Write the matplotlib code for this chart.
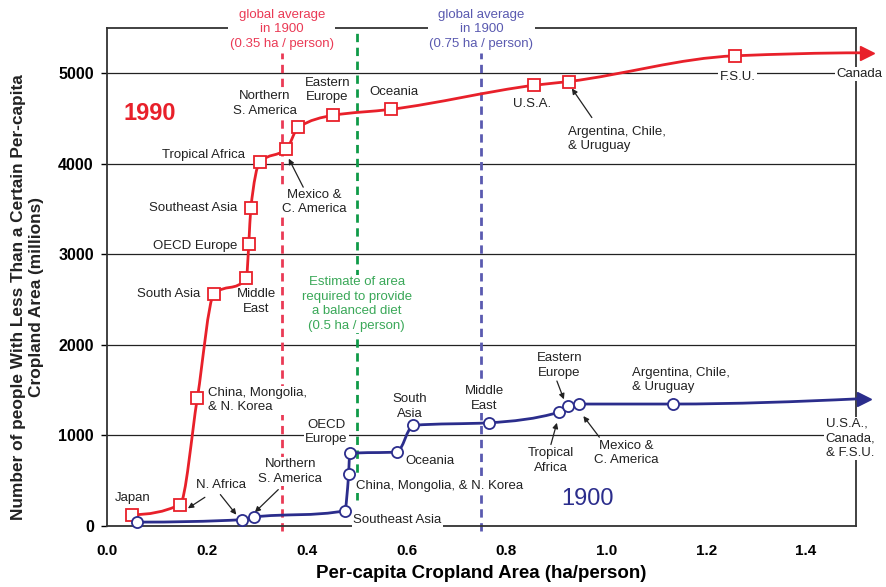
import numpy as np
import matplotlib
matplotlib.use("Agg")
import matplotlib.pyplot as plt
from matplotlib.path import Path
from matplotlib.patches import PathPatch

plt.rcParams['font.family'] = ['Liberation Sans', 'DejaVu Sans']

# Serie 1990: superficie cultivada per capita (ha/persona) y poblacion acumulada (millones)
x_1990 = [0.051, 0.146, 0.181, 0.214, 0.279, 0.284, 0.288, 0.306, 0.359,
          0.383, 0.453, 0.569, 0.856, 0.925, 1.258, 1.512]
y_1990 = [125, 236, 1416, 2561, 2734, 3115, 3509, 4019, 4159,
          4403, 4536, 4602, 4868, 4909, 5193, 5226]

# Serie 1900
x_1900 = [0.061, 0.271, 0.294, 0.476, 0.484, 0.486, 0.581, 0.613, 0.765,
          0.906, 0.923, 0.946, 1.133, 1.506]
y_1900 = [43, 70, 99, 169, 579, 801, 818, 1111, 1140,
          1258, 1321, 1347, 1347, 1405]

# Lineas de referencia (ha/persona)
media_1900_roja = 0.35
media_1900_azul = 0.75
dieta_equilibrada = 0.5

ROJO = '#e8202a'
AZUL = '#2b2d8c'
ROJO_CLARO = '#ea3a55'
AZUL_CLARO = '#5a5ab0'
VERDE = '#0f9a48'
VERDE_TXT = '#3aa858'
GRIS = '#222222'


def curva_suave(x, y):
    """Construye un Path de Bezier cubicas (Hermite monotona) que pasa por los puntos."""
    x = np.asarray(x, float)
    y = np.asarray(y, float)
    h = np.diff(x)
    delta = np.diff(y) / h
    n = len(x)
    d = np.zeros(n)
    for k in range(1, n - 1):
        if delta[k - 1] * delta[k] <= 0:
            d[k] = 0.0
        else:
            w1 = 2 * h[k] + h[k - 1]
            w2 = h[k] + 2 * h[k - 1]
            d[k] = (w1 + w2) / (w1 / delta[k - 1] + w2 / delta[k])

    def extremo(h0, h1, d0, d1):
        v = ((2 * h0 + h1) * d0 - h0 * d1) / (h0 + h1)
        if np.sign(v) != np.sign(d0):
            return 0.0
        if np.sign(d0) != np.sign(d1) and abs(v) > abs(3 * d0):
            return 3 * d0
        return v

    d[0] = extremo(h[0], h[1], delta[0], delta[1])
    d[-1] = extremo(h[-1], h[-2], delta[-1], delta[-2])

    verts = [(x[0], y[0])]
    codes = [Path.MOVETO]
    for k in range(n - 1):
        verts += [(x[k] + h[k] / 3, y[k] + d[k] * h[k] / 3),
                  (x[k + 1] - h[k] / 3, y[k + 1] - d[k + 1] * h[k] / 3),
                  (x[k + 1], y[k + 1])]
        codes += [Path.CURVE4] * 3
    return Path(verts, codes)


fig = plt.figure(figsize=(8.87, 5.87), dpi=100)
ax = fig.add_axes([107 / 887, 1 - 526 / 587, 749 / 887, 498 / 587])
ax.set_xlim(0, 1.5)
ax.set_ylim(0, 5500)

# rejilla horizontal
ax.set_yticks([0, 1000, 2000, 3000, 4000, 5000])
ax.set_xticks([0.0, 0.2, 0.4, 0.6, 0.8, 1.0, 1.2, 1.4])
ax.set_xticklabels(['0.0', '0.2', '0.4', '0.6', '0.8', '1.0', '1.2', '1.4'],
                   fontweight='bold', fontsize=11)
ax.set_yticklabels(['0', '1000', '2000', '3000', '4000', '5000'],
                   fontweight='bold', fontsize=11.5)
ax.grid(axis='y', color=GRIS, lw=0.9)
ax.set_axisbelow(True)
ax.tick_params(axis='x', length=0, pad=13)
ax.tick_params(axis='y', length=4.5, width=1, direction='out', pad=5)
for s in ax.spines.values():
    s.set_color('#333333')
    s.set_linewidth(1.3)

# lineas verticales discontinuas
ax.plot([media_1900_roja] * 2, [-50, 5222], color=ROJO_CLARO, lw=2,
        dashes=(3, 2), clip_on=False, zorder=2)
ax.plot([media_1900_azul] * 2, [-50, 5222], color=AZUL_CLARO, lw=2,
        dashes=(3, 2), clip_on=False, zorder=2)
ax.plot([dieta_equilibrada] * 2, [283, 5500], color=VERDE, lw=2,
        dashes=(3, 2), clip_on=False, zorder=2)

# curvas
for xs, ys, col, mk in [(x_1990, y_1990, ROJO, 's'), (x_1900, y_1900, AZUL, 'o')]:
    ax.add_patch(PathPatch(curva_suave(xs, ys), fill=False, edgecolor=col,
                           lw=2, zorder=5, clip_on=False))
    ax.plot(xs[:-1], ys[:-1], linestyle='none', marker=mk, markersize=8,
            markerfacecolor='white', markeredgecolor=col, markeredgewidth=1.3,
            zorder=6, clip_on=False)
    ax.plot([xs[-1] + 0.011], [ys[-1]], marker='>', markersize=10, color=col,
            linestyle='none', clip_on=False, zorder=6)

caja = dict(boxstyle='square,pad=0.1', fc='white', ec='none')
txt = dict(fontsize=9.5, color=GRIS, zorder=4, bbox=caja, linespacing=1.28)

# etiquetas de la serie 1990
ax.text(0.051, 309, 'Japan', ha='center', va='center', **txt)
ax.text(0.228, 457, 'N. Africa', ha='center', va='center', **txt)
ax.text(0.203, 1390, 'China, Mongolia,\n& N. Korea', ha='left', va='center', **txt)
ax.text(0.187, 2561, 'South Asia', ha='right', va='center', **txt)
ax.text(0.299, 2479, 'Middle\nEast', ha='center', va='center', **txt)
ax.text(0.261, 3096, 'OECD Europe', ha='right', va='center', **txt)
ax.text(0.261, 3509, 'Southeast Asia', ha='right', va='center', **txt)
ax.text(0.277, 4100, 'Tropical Africa', ha='right', va='center', **txt)
ax.text(0.416, 3576, 'Mexico &\nC. America', ha='center', va='center', **txt)
ax.text(0.316, 4666, 'Northern\nS. America', ha='center', va='center', **txt)
ax.text(0.441, 4813, 'Eastern\nEurope', ha='center', va='center', **txt)
ax.text(0.574, 4788, 'Oceania', ha='center', va='center', **txt)
ax.text(0.851, 4666, 'U.S.A.', ha='center', va='center', **txt)
ax.text(0.923, 4274, 'Argentina, Chile,\n& Uruguay', ha='left', va='center', **txt)
ax.text(1.263, 4960, 'F.S.U.', ha='center', va='center', **txt)
ax.text(1.507, 4990, 'Canada', ha='center', va='center', **txt)

# etiquetas de la serie 1900
ax.text(0.367, 604, 'Northern\nS. America', ha='center', va='center', **txt)
ax.text(0.439, 1040, 'OECD\nEurope', ha='center', va='center', **txt)
ax.text(0.499, 446, 'China, Mongolia, & N. Korea', ha='left', va='center', **txt)
ax.text(0.493, 70, 'Southeast Asia', ha='left', va='center', **txt)
ax.text(0.598, 723, 'Oceania', ha='left', va='center', **txt)
ax.text(0.606, 1317, 'South\nAsia', ha='center', va='center', **txt)
ax.text(0.756, 1410, 'Middle\nEast', ha='center', va='center', **txt)
ax.text(0.906, 1775, 'Eastern\nEurope', ha='center', va='center', **txt)
ax.text(0.889, 723, 'Tropical\nAfrica', ha='center', va='center', **txt)
ax.text(1.039, 807, 'Mexico &\nC. America', ha='center', va='center', **txt)
ax.text(1.051, 1610, 'Argentina, Chile,\n& Uruguay', ha='left', va='center', **txt)
ax.text(1.439, 967, 'U.S.A.,\nCanada,\n& F.S.U.', ha='left', va='center', **txt)

# flechas de las etiquetas
flecha = dict(arrowstyle='-|>', color=GRIS, lw=0.9, mutation_scale=8,
              shrinkA=0, shrinkB=0)
for cola, punta in [((0.196, 317), (0.162, 195)),
                    ((0.227, 347), (0.259, 125)),
                    ((0.343, 402), (0.296, 151)),
                    ((0.393, 3742), (0.364, 4057)),
                    ((0.971, 4511), (0.931, 4832)),
                    ((0.901, 1601), (0.915, 1399)),
                    ((0.889, 900), (0.901, 1140)),
                    ((0.986, 981), (0.954, 1214))]:
    ax.annotate('', xy=punta, xytext=cola, arrowprops=flecha, zorder=4)

# textos de las lineas de referencia
ax.text(media_1900_roja, 5485, 'global average\nin 1900\n(0.35 ha / person)',
        ha='center', va='center', fontsize=9.5, color=ROJO_CLARO, zorder=4,
        bbox=caja, linespacing=1.28)
ax.text(media_1900_azul, 5485, 'global average\nin 1900\n(0.75 ha / person)',
        ha='center', va='center', fontsize=9.5, color=AZUL_CLARO, zorder=4,
        bbox=caja, linespacing=1.28)
ax.text(dieta_equilibrada, 2451,
        'Estimate of area\nrequired to provide\na balanced diet\n(0.5 ha / person)',
        ha='center', va='center', fontsize=9.5, color=VERDE_TXT, zorder=4,
        bbox=caja, linespacing=1.28)

ax.text(0.086, 4558, '1990', ha='center', va='center', fontsize=17,
        fontweight='bold', color=ROJO)
ax.text(0.962, 293, '1900', ha='center', va='center', fontsize=17, color=AZUL)

ax.set_xlabel('Per-capita Cropland Area (ha/person)', fontsize=13.5,
              fontweight='bold', labelpad=5)
fig.text(27.5 / 887, 1 - 297 / 587,
         'Number of people With Less Than a Certain Per-capita\nCropland Area (millions)',
         rotation=90, ha='center', va='center', fontsize=12.4,
         fontweight='bold', linespacing=1.2, color=GRIS)

fig.savefig('out.png', dpi=100)
